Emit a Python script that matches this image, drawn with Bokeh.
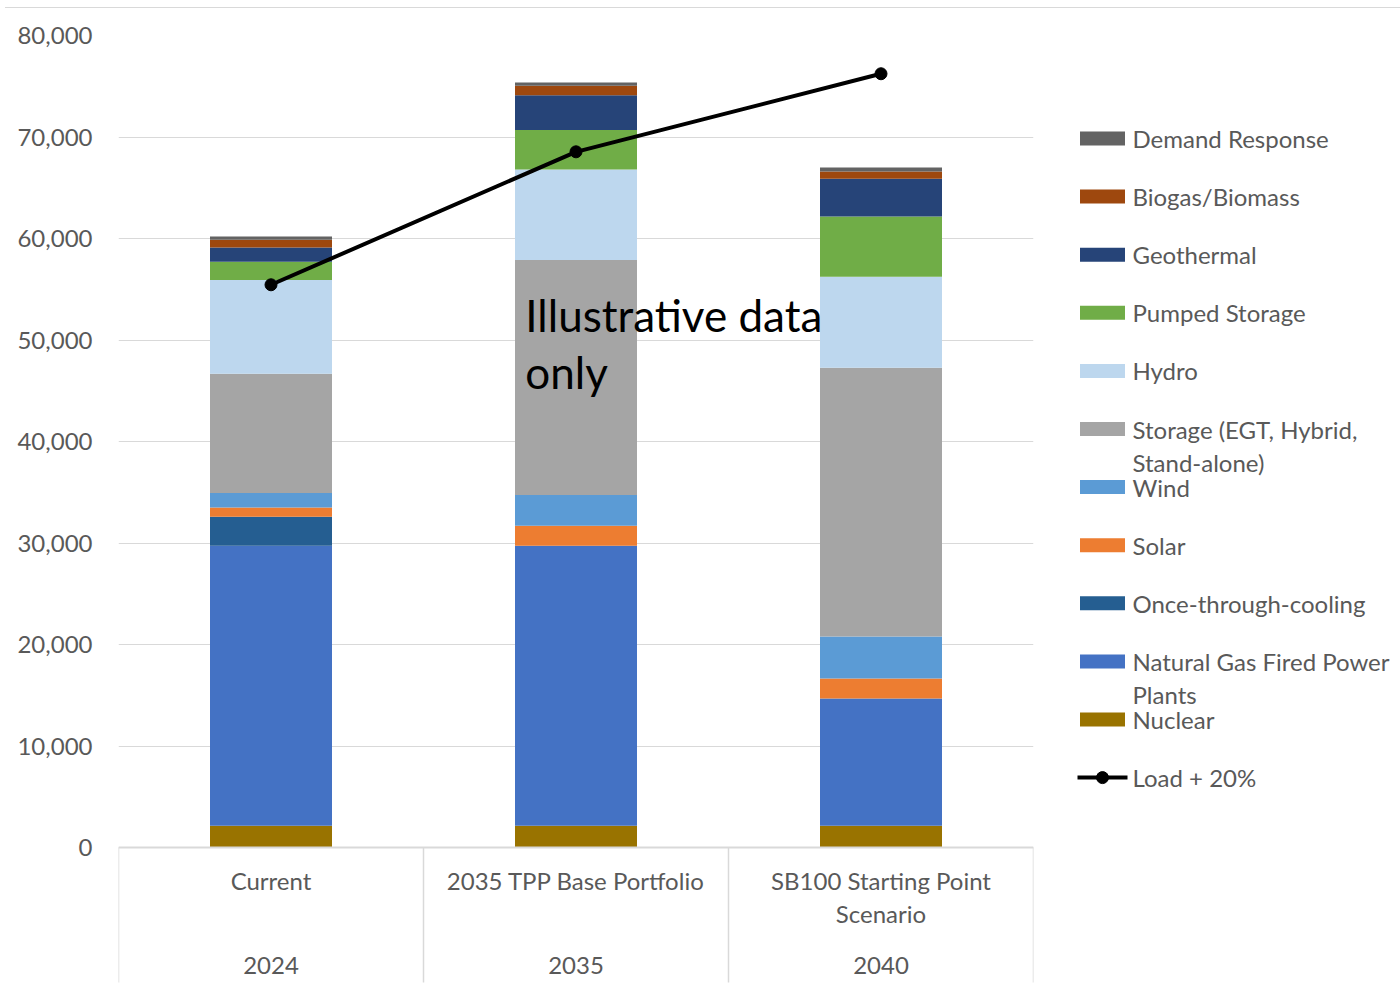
from bokeh.plotting import figure
from bokeh.models import (FactorRange, Range1d, CategoricalAxis, FixedTicker,
                          NumeralTickFormatter, Label, ColumnDataSource, Div)
from bokeh.layouts import row, column
from bokeh.embed import file_html
from bokeh.resources import INLINE
from bokeh.core.properties import value

# ---------------- data ----------------
categories = ["Current", "2035 TPP Base Portfolio", "SB100 Starting Point\nScenario"]
years = ["2024", "2035", "2040"]

nuclear = [2150, 2150, 2150]
natural_gas = [27570, 27570, 12530]
once_through_cooling = [2860, 0, 0]
solar = [920, 1970, 1970]
wind = [1420, 3050, 4140]
storage = [11750, 23150, 26470]
hydro = [9230, 8900, 8970]
pumped_storage = [1800, 3910, 5940]
geothermal = [1410, 3420, 3710]
biogas_biomass = [760, 920, 720]
demand_response = [330, 330, 390]
load_plus_20 = [55440, 68540, 76230]

y_ticks = [0, 10000, 20000, 30000, 40000, 50000, 60000, 70000, 80000]

series_keys = ["nuclear", "natural_gas", "once_through_cooling", "solar", "wind", "storage",
               "hydro", "pumped_storage", "geothermal", "biogas_biomass", "demand_response"]
series_labels = ["Nuclear", "Natural Gas Fired Power\nPlants", "Once-through-cooling", "Solar",
                 "Wind", "Storage (EGT, Hybrid,\nStand-alone)", "Hydro", "Pumped Storage",
                 "Geothermal", "Biogas/Biomass", "Demand Response"]
load_label = "Load + 20%"
series_colors = ["#997300", "#4472C4", "#255E91", "#ED7D31", "#5B9BD5", "#A5A5A5",
                 "#BDD7EE", "#70AD47", "#264478", "#9E480E", "#636363"]

FONT = "Lato"
FS = "24px"
TXT = "#595959"
GRID = "#d9d9d9"

source = ColumnDataSource(dict(
    x=categories, nuclear=nuclear, natural_gas=natural_gas,
    once_through_cooling=once_through_cooling, solar=solar, wind=wind, storage=storage,
    hydro=hydro, pumped_storage=pumped_storage, geothermal=geothermal,
    biogas_biomass=biogas_biomass, demand_response=demand_response))

# ---------------- layout geometry (page pixels) ----------------
PAGE_H = 991
OFF = 8            # height of the top border strip
H = PAGE_H - OFF   # figure height
TOP_PX = 35 - OFF        # y of the top value inside the figure
ZERO_PX = 847 - OFF      # y of value 0
SEP_END_PX = 982 - OFF   # bottom of the category separators
y_max = y_ticks[-1]
per_px = y_max / (ZERO_PX - TOP_PX)
y_min = -(H - ZERO_PX) * per_px
sep_bottom = -(SEP_END_PX - ZERO_PX) * per_px

# ---------------- main chart ----------------
MAIN_W = 1035
p = figure(x_range=FactorRange(factors=categories, range_padding=0),
           y_range=Range1d(y_min, y_max),
           width=MAIN_W, height=H, output_backend="svg", toolbar_location=None,
           min_border_left=118, min_border_right=2, min_border_top=TOP_PX, min_border_bottom=0)
p.outline_line_color = None
p.background_fill_color = "white"
p.border_fill_color = "white"
p.xgrid.grid_line_color = None
ticker = FixedTicker(ticks=y_ticks)
p.ygrid.ticker = ticker
p.ygrid.grid_line_color = GRID
p.ygrid.grid_line_width = 1

p.vbar_stack(series_keys, x="x", width=0.4, color=series_colors, line_color=None, source=source)

p.line(x=categories, y=load_plus_20, line_color="black", line_width=4)
p.scatter(x=categories, y=load_plus_20, size=12, color="black")

# category separators (at category edges)
sep_x = [(c, -0.5) for c in categories] + [(categories[-1], 0.5)]
p.segment(x0=sep_x, x1=sep_x, y0=[0] * len(sep_x), y1=[sep_bottom] * len(sep_x),
          line_color=GRID, line_width=1.5)

# y axis
yax = p.yaxis[0]
yax.ticker = ticker
yax.formatter = NumeralTickFormatter(format="0,0")
yax.axis_line_color = None
yax.major_tick_line_color = None
yax.minor_tick_line_color = None
yax.major_label_standoff = 20
yax.major_label_text_font = FONT
yax.major_label_text_font_size = FS
yax.major_label_text_color = TXT

# x axis (categories) drawn at value 0
xax = p.xaxis[0]
xax.fixed_location = 0
xax.axis_line_color = GRID
xax.axis_line_width = 2
xax.major_tick_line_color = None
xax.major_label_standoff = 12
xax.major_label_text_font = FONT
xax.major_label_text_font_size = FS
xax.major_label_text_color = TXT
xax.major_label_text_line_height = 1.15

# x axis (years)
p.extra_x_ranges = {"years": FactorRange(factors=years, range_padding=0)}
yrax = CategoricalAxis(x_range_name="years", fixed_location=0, axis_line_color=None,
                       major_tick_line_color=None, major_label_standoff=103,
                       major_label_text_font=FONT, major_label_text_font_size=FS,
                       major_label_text_color=TXT)
p.add_layout(yrax, "below")

# annotation
p.add_layout(Label(x=1.334, y=52500, text="Illustrative data", text_font=FONT,
                   text_font_size="44px", text_color="black", text_baseline="middle"))
p.add_layout(Label(x=1.334, y=46800, text="only", text_font=FONT,
                   text_font_size="44px", text_color="black", text_baseline="middle"))

# ---------------- legend panel ----------------
LEG_W = 1400 - MAIN_W
LEG_TOP = 138 - OFF
LEG_STEP = 58.1
legend_labels = list(reversed(series_labels)) + [load_label]
legend_colors = list(reversed(series_colors))
leg_y = [LEG_TOP + i * LEG_STEP for i in range(len(legend_labels))]

lf = figure(width=LEG_W, height=H, x_range=Range1d(0, LEG_W), y_range=Range1d(H, TOP_PX),
            output_backend="svg", toolbar_location=None,
            min_border_left=0, min_border_right=0, min_border_top=TOP_PX, min_border_bottom=0)
lf.axis.visible = False
lf.grid.visible = False
lf.outline_line_color = None
lf.border_fill_color = "white"

sw_x = 1102 - MAIN_W
tx_x = 1132 - MAIN_W
lf.rect(x=sw_x, y=leg_y[:-1], width=45, height=14, height_units="screen",
        color=legend_colors, line_color=None)
lf.segment(x0=sw_x - 25, x1=sw_x + 25, y0=leg_y[-1:], y1=leg_y[-1:],
           line_color="black", line_width=4)
lf.scatter(x=[sw_x], y=leg_y[-1:], size=12, color="black")

first_lines = [s.split("\n")[0] for s in legend_labels]
rest = [(yy, s.split("\n")[1]) for yy, s in zip(leg_y, legend_labels) if "\n" in s]
lf.text(x=tx_x, y=leg_y, text=first_lines, text_font=value(FONT),
        text_font_size=FS, text_color=TXT, text_baseline="middle", text_align="left")
lf.text(x=tx_x, y=[r[0] for r in rest], text=[r[1] for r in rest], text_font=value(FONT),
        text_font_size=FS, text_color=TXT, text_baseline="middle", text_align="left",
        y_offset=33)

# thin chart-area border line at the top
top_rule = Div(text="", width=1395, height=OFF, margin=(0, 0, 0, 5),
               styles={"border-bottom": "1px solid #d9d9d9"})

layout = column(top_rule, row(p, lf, spacing=0), spacing=0)
open("out.html", "w").write(file_html(layout, INLINE))
